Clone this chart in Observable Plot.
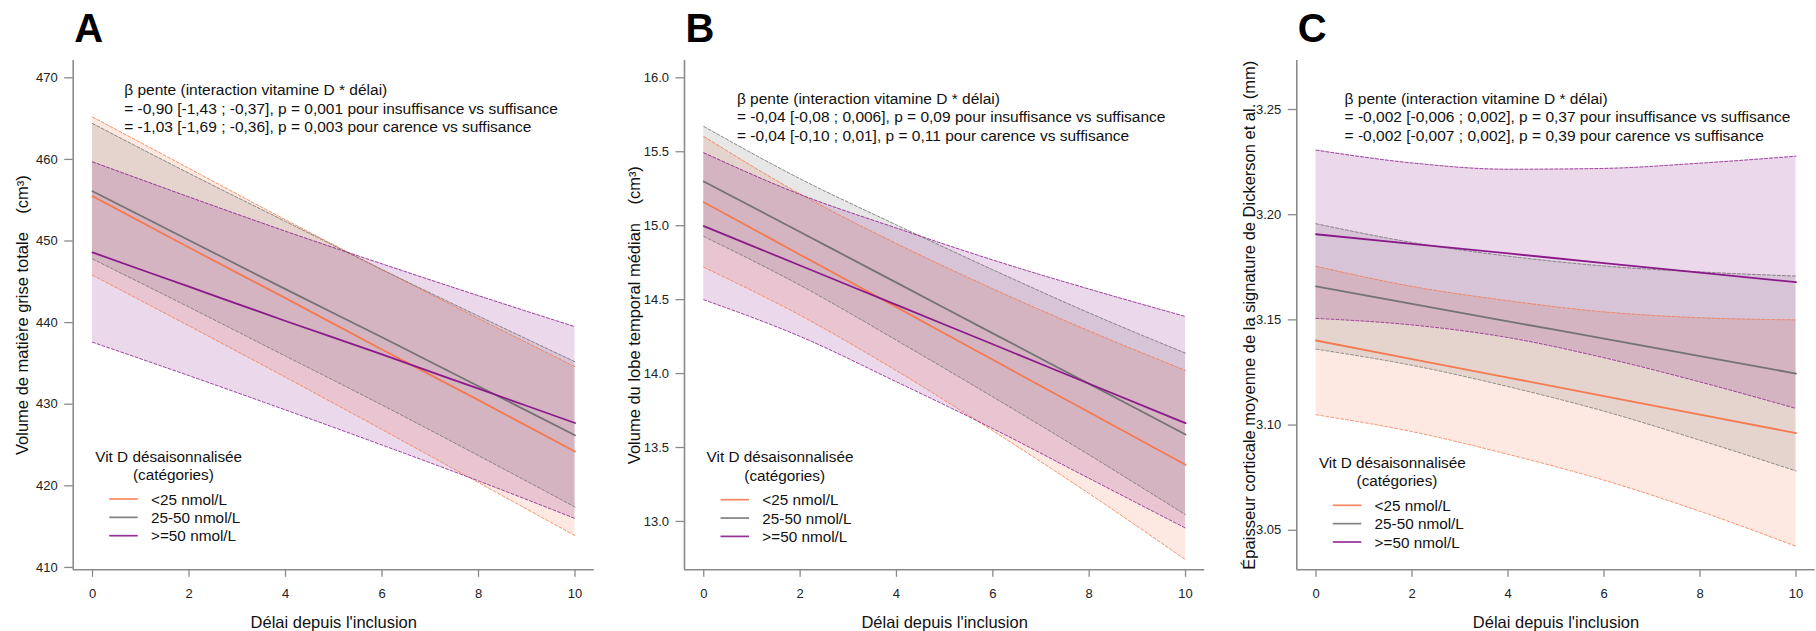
<!DOCTYPE html>
<html><head><meta charset="utf-8">
<script src="https://cdn.jsdelivr.net/npm/d3@7"></script>
<script src="https://cdn.jsdelivr.net/npm/@observablehq/plot@0.6"></script>
<style>
html,body{margin:0;padding:0;background:#fff;}
#wrap{position:relative;width:1816px;height:631px;overflow:hidden;font-family:"Liberation Sans",Arial,sans-serif;background:#fff;}
#wrap svg{position:absolute;top:0;overflow:visible;}
</style></head><body><div id="wrap"></div>
<script>
// ---------- shared ----------
const delai = [0, 2, 4, 6, 8, 10];
const xTicks = [0, 2, 4, 6, 8, 10];
const groups = ["<25 nmol/L", "25-50 nmol/L", ">=50 nmol/L"];
const colors = ["#f47a4f", "#737373", "#8a1a8a"];
const legendTitle = ["Vit D désaisonnalisée", "(catégories)"];
const xLabel = "Délai depuis l'inclusion";

// ---------- Panel A : matière grise totale ----------
const aFit = [
  [455.5, 449.2, 443.0, 436.7, 430.5, 424.2],
  [456.1, 450.1, 444.1, 438.2, 432.2, 426.2],
  [448.6, 444.4, 440.2, 436.1, 431.9, 427.7]
];
const aLow = [
  [445.8, 439.6, 433.3, 426.9, 420.4, 413.9],
  [447.8, 441.9, 435.9, 429.9, 423.7, 417.4],
  [437.6, 433.5, 429.3, 425.0, 420.6, 416.0]
];
const aHigh = [
  [465.2, 458.9, 452.6, 446.5, 440.5, 434.6],
  [464.4, 458.3, 452.4, 446.5, 440.8, 435.2],
  [459.7, 455.4, 451.2, 447.2, 443.3, 439.5]
];
const aTicks = [410, 420, 430, 440, 450, 460, 470];
const aYLabel = "Volume de matière grise totale\u00a0\u00a0\u00a0\u00a0(cm³)";
const aNote = [
  "β pente (interaction vitamine D * délai)",
  "= -0,90 [-1,43 ; -0,37], p = 0,001 pour insuffisance vs suffisance",
  "= -1,03 [-1,69 ; -0,36], p = 0,003 pour carence vs suffisance"
];

// ---------- Panel B : lobe temporal médian ----------
const bFit = [
  [15.159, 14.804, 14.449, 14.093, 13.738, 13.383],
  [15.299, 14.957, 14.615, 14.272, 13.930, 13.588],
  [14.997, 14.731, 14.464, 14.198, 13.931, 13.665]
];
const bLow = [
  [14.719, 14.394, 14.019, 13.613, 13.188, 12.741],
  [14.927, 14.597, 14.225, 13.842, 13.450, 13.045],
  [14.499, 14.251, 13.944, 13.628, 13.291, 12.955]
];
const bHigh = [
  [15.603, 15.214, 14.879, 14.573, 14.288, 14.021],
  [15.671, 15.317, 15.005, 14.702, 14.410, 14.138],
  [15.493, 15.211, 14.984, 14.768, 14.571, 14.386]
];
const bTicks = [13.0, 13.5, 14.0, 14.5, 15.0, 15.5, 16.0];
const bYLabel = "Volume du lobe temporal médian\u00a0\u00a0\u00a0\u00a0(cm³)";
const bNote = [
  "β pente (interaction vitamine D * délai)",
  "= -0,04 [-0,08 ; 0,006], p = 0,09 pour insuffisance vs suffisance",
  "= -0,04 [-0,10 ; 0,01], p = 0,11 pour carence vs suffisance"
];

// ---------- Panel C : épaisseur corticale ----------
const cFit = [
  [3.1402, 3.1314, 3.1226, 3.1138, 3.1050, 3.0962],
  [3.1659, 3.1576, 3.1493, 3.1411, 3.1328, 3.1245],
  [3.1907, 3.1861, 3.1816, 3.1770, 3.1725, 3.1679]
];
const cLow = [
  [3.1049, 3.0969, 3.0861, 3.0738, 3.0590, 3.0424],
  [3.1361, 3.1284, 3.1183, 3.1066, 3.0928, 3.0782],
  [3.1507, 3.1476, 3.1416, 3.1320, 3.1205, 3.1079]
];
const cHigh = [
  [3.1755, 3.1659, 3.1591, 3.1538, 3.1510, 3.1500],
  [3.1957, 3.1868, 3.1803, 3.1756, 3.1728, 3.1708],
  [3.2307, 3.2246, 3.2216, 3.2220, 3.2245, 3.2278]
];
const cTicks = [3.05, 3.10, 3.15, 3.20, 3.25];
const cYLabel = "Épaisseur corticale moyenne de la signature de Dickerson et al. (mm)";
const cNote = [
  "β pente (interaction vitamine D * délai)",
  "= -0,002 [-0,006 ; 0,002], p = 0,37 pour insuffisance vs suffisance",
  "= -0,002 [-0,007 ; 0,002], p = 0,39 pour carence vs suffisance"
];

// ---------- drawing ----------
const FONT = "'Liberation Sans', Arial, sans-serif";
const axisColor = "#8a8a8a";
const H = 631, MT = 60, MB = 61.7;
const wrap = document.getElementById("wrap");

function panel(cfg) {
  const rows = [];
  groups.forEach((g, gi) => delai.forEach((t, i) => rows.push({
    t, g, fit: cfg.fit[gi][i], low: cfg.low[gi][i], high: cfg.high[gi][i]
  })));
  const curve = "monotone-x";
  const svg = Plot.plot({
    width: cfg.width, height: H,
    marginTop: MT, marginBottom: MB, marginLeft: cfg.ml, marginRight: cfg.mr,
    style: {fontFamily: FONT, fontSize: "13px", color: "#222", background: "transparent"},
    x: {domain: [-0.4, 10.4]},
    y: {domain: cfg.yDomain},
    color: {domain: groups, range: colors},
    marks: [
      Plot.areaY(rows, {x: "t", y1: "low", y2: "high", fill: "g", fillOpacity: 0.17, curve}),
      Plot.lineY(rows, {x: "t", y: "low", stroke: "g", strokeWidth: 0.9, strokeDasharray: "3,2", strokeOpacity: 0.9, curve}),
      Plot.lineY(rows, {x: "t", y: "high", stroke: "g", strokeWidth: 0.9, strokeDasharray: "3,2", strokeOpacity: 0.9, curve}),
      Plot.lineY(rows, {x: "t", y: "fit", stroke: "g", strokeWidth: 1.8, curve}),
      Plot.ruleX([-0.4], {stroke: axisColor, strokeWidth: 1.6}),
      Plot.ruleY([cfg.yDomain[0]], {stroke: axisColor, strokeWidth: 1.6}),
      Plot.axisY(cfg.yTicks, {tickSize: 8.5, tickPadding: 7, stroke: axisColor, strokeWidth: 1.3, fill: "#222", tickFormat: cfg.fmt, label: null}),
      Plot.axisX(xTicks, {tickSize: 7.5, tickPadding: 11.3, stroke: axisColor, strokeWidth: 1.3, fill: "#222", label: null}),
      Plot.text([cfg.yLabel], {frameAnchor: "left", textAnchor: "middle", lineAnchor: "middle", rotate: -90,
        dx: cfg.ylDx, fontSize: 16.5, fill: "#111", text: d => d}),
      Plot.text([xLabel], {frameAnchor: "bottom", textAnchor: "middle", lineAnchor: "middle", dy: 53.4,
        fontSize: 16.5, fill: "#111", text: d => d}),
      Plot.text([cfg.note.join("\n")], {frameAnchor: "top-left", textAnchor: "start", lineAnchor: "top",
        lineHeight: 1.187, dx: cfg.noteDx, dy: cfg.noteDy, fontSize: 15.5, fill: "#111", text: d => d})
    ]
  });
  svg.style.left = cfg.left + "px";
  wrap.appendChild(svg);

  const s = d3.select(svg);
  // panel letter
  s.append("text")
    .attr("x", cfg.ml + 1.5).attr("y", 41.5)
    .attr("text-anchor", "start")
    .attr("font-family", FONT).attr("font-weight", "bold").attr("font-size", 40)
    .attr("fill", "#000").text(cfg.letter);
  // legend
  const lg = s.append("g").attr("font-family", FONT).attr("fill", "#111").attr("font-size", 15.3);
  const y0 = cfg.legY;
  lg.append("text").attr("x", cfg.ml + 96).attr("y", y0)
    .attr("text-anchor", "middle").attr("dominant-baseline", "central").text(legendTitle[0]);
  lg.append("text").attr("x", cfg.ml + 100.7).attr("y", y0 + 18.3)
    .attr("text-anchor", "middle").attr("dominant-baseline", "central").text(legendTitle[1]);
  groups.forEach((g, i) => {
    const y = y0 + 43 + i * 18.35;
    lg.append("line").attr("x1", cfg.ml + 36.5).attr("x2", cfg.ml + 65)
      .attr("y1", y).attr("y2", y).attr("stroke", colors[i]).attr("stroke-width", 1.7)
      .attr("stroke-opacity", 0.9);
    lg.append("text").attr("x", cfg.ml + 78.3).attr("y", y)
      .attr("text-anchor", "start").attr("dominant-baseline", "central").text(g);
  });
}

panel({left: 0, width: 620, ml: 72.7, mr: 26.2, yDomain: [409.71, 472.12], yTicks: aTicks,
  fmt: d3.format("d"), fit: aFit, low: aLow, high: aHigh, yLabel: aYLabel, ylDx: -50.2,
  note: aNote, noteDx: 51, noteDy: 21.75, letter: "A", legY: 456});
panel({left: 600, width: 620, ml: 84, mr: 15.7, yDomain: [12.673, 16.117], yTicks: bTicks,
  fmt: d3.format(".1f"), fit: bFit, low: bLow, high: bHigh, yLabel: bYLabel, ylDx: -49.6,
  note: bNote, noteDx: 52.4, noteDy: 30.15, letter: "B", legY: 456.7});
panel({left: 1200, width: 616, ml: 96.3, mr: 1.3, yDomain: [3.0312, 3.2733], yTicks: cTicks,
  fmt: d3.format(".2f"), fit: cFit, low: cLow, high: cHigh, yLabel: cYLabel, ylDx: -46.8,
  note: cNote, noteDx: 47.8, noteDy: 30.15, letter: "C", legY: 462.3});
</script>
</body></html>
